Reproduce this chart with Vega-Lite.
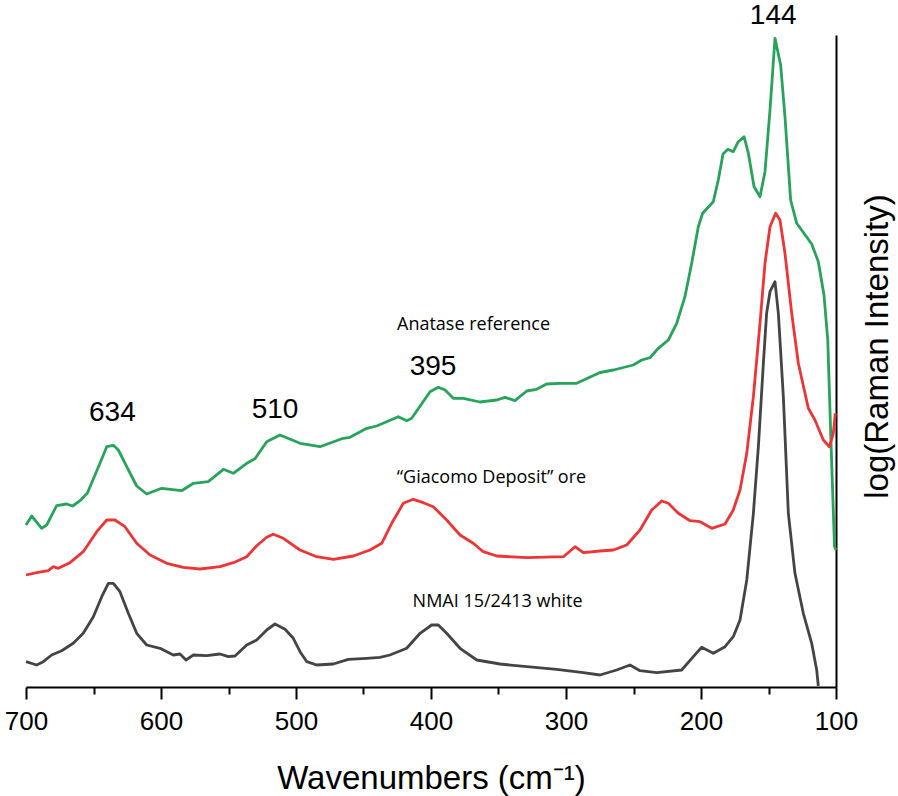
{
  "$schema": "https://vega.github.io/schema/vega-lite/v6.json",
  "width": 810,
  "height": 652,
  "autosize": {"type": "none"},
  "padding": {"left": 26, "top": 35, "right": 62, "bottom": 109},
  "background": "white",
  "config": {"view": {"stroke": null}},
  "datasets": {
    "spectra": [
      {"series": "Anatase reference", "wn": 700, "y": 162},
      {"series": "Anatase reference", "wn": 695.8, "y": 171},
      {"series": "Anatase reference", "wn": 688.4, "y": 158.7},
      {"series": "Anatase reference", "wn": 684.7, "y": 162},
      {"series": "Anatase reference", "wn": 677.3, "y": 181.3},
      {"series": "Anatase reference", "wn": 669.9, "y": 183},
      {"series": "Anatase reference", "wn": 665.4, "y": 181},
      {"series": "Anatase reference", "wn": 660, "y": 186.3},
      {"series": "Anatase reference", "wn": 654.6, "y": 193.7},
      {"series": "Anatase reference", "wn": 645.2, "y": 223.7},
      {"series": "Anatase reference", "wn": 640.2, "y": 240.3},
      {"series": "Anatase reference", "wn": 635.3, "y": 241.7},
      {"series": "Anatase reference", "wn": 631.6, "y": 237},
      {"series": "Anatase reference", "wn": 625.4, "y": 220.3},
      {"series": "Anatase reference", "wn": 618, "y": 201},
      {"series": "Anatase reference", "wn": 610.6, "y": 193},
      {"series": "Anatase reference", "wn": 599.5, "y": 198.7},
      {"series": "Anatase reference", "wn": 584.7, "y": 196.3},
      {"series": "Anatase reference", "wn": 576, "y": 203.7},
      {"series": "Anatase reference", "wn": 565, "y": 205.3},
      {"series": "Anatase reference", "wn": 553.8, "y": 217.7},
      {"series": "Anatase reference", "wn": 546.4, "y": 213.7},
      {"series": "Anatase reference", "wn": 536.5, "y": 223.7},
      {"series": "Anatase reference", "wn": 530.4, "y": 228.3},
      {"series": "Anatase reference", "wn": 521.7, "y": 245.3},
      {"series": "Anatase reference", "wn": 511.9, "y": 252},
      {"series": "Anatase reference", "wn": 497, "y": 243.7},
      {"series": "Anatase reference", "wn": 482.2, "y": 240.3},
      {"series": "Anatase reference", "wn": 465, "y": 248.7},
      {"series": "Anatase reference", "wn": 460, "y": 249.7},
      {"series": "Anatase reference", "wn": 447.6, "y": 258.7},
      {"series": "Anatase reference", "wn": 440.2, "y": 261},
      {"series": "Anatase reference", "wn": 424.2, "y": 270.3},
      {"series": "Anatase reference", "wn": 418, "y": 266.3},
      {"series": "Anatase reference", "wn": 414.3, "y": 268.7},
      {"series": "Anatase reference", "wn": 400.7, "y": 295.3},
      {"series": "Anatase reference", "wn": 394.6, "y": 299.7},
      {"series": "Anatase reference", "wn": 389.6, "y": 297},
      {"series": "Anatase reference", "wn": 383.5, "y": 288.7},
      {"series": "Anatase reference", "wn": 376, "y": 288.7},
      {"series": "Anatase reference", "wn": 363.7, "y": 285},
      {"series": "Anatase reference", "wn": 351.3, "y": 287},
      {"series": "Anatase reference", "wn": 345.2, "y": 289.7},
      {"series": "Anatase reference", "wn": 337.8, "y": 286.3},
      {"series": "Anatase reference", "wn": 329.1, "y": 296},
      {"series": "Anatase reference", "wn": 321.7, "y": 297.7},
      {"series": "Anatase reference", "wn": 314.3, "y": 303},
      {"series": "Anatase reference", "wn": 304.4, "y": 303.7},
      {"series": "Anatase reference", "wn": 292.1, "y": 303.7},
      {"series": "Anatase reference", "wn": 274.8, "y": 314.5},
      {"series": "Anatase reference", "wn": 264.9, "y": 317},
      {"series": "Anatase reference", "wn": 250.1, "y": 322},
      {"series": "Anatase reference", "wn": 243.9, "y": 327},
      {"series": "Anatase reference", "wn": 237.8, "y": 329.3},
      {"series": "Anatase reference", "wn": 231.6, "y": 338.7},
      {"series": "Anatase reference", "wn": 224.2, "y": 347},
      {"series": "Anatase reference", "wn": 218, "y": 363.7},
      {"series": "Anatase reference", "wn": 211.9, "y": 390.3},
      {"series": "Anatase reference", "wn": 206.9, "y": 423.7},
      {"series": "Anatase reference", "wn": 202, "y": 460.3},
      {"series": "Anatase reference", "wn": 198.8, "y": 473.7},
      {"series": "Anatase reference", "wn": 190.9, "y": 485.3},
      {"series": "Anatase reference", "wn": 187.2, "y": 507},
      {"series": "Anatase reference", "wn": 183.7, "y": 533},
      {"series": "Anatase reference", "wn": 180.1, "y": 537.7},
      {"series": "Anatase reference", "wn": 176.1, "y": 535.3},
      {"series": "Anatase reference", "wn": 172.4, "y": 545.3},
      {"series": "Anatase reference", "wn": 168.1, "y": 550.3},
      {"series": "Anatase reference", "wn": 164.9, "y": 533.7},
      {"series": "Anatase reference", "wn": 160.7, "y": 500.3},
      {"series": "Anatase reference", "wn": 156.3, "y": 490.3},
      {"series": "Anatase reference", "wn": 152.6, "y": 515.3},
      {"series": "Anatase reference", "wn": 148.9, "y": 577},
      {"series": "Anatase reference", "wn": 145.2, "y": 648.7},
      {"series": "Anatase reference", "wn": 141, "y": 622},
      {"series": "Anatase reference", "wn": 137.8, "y": 570.3},
      {"series": "Anatase reference", "wn": 133.6, "y": 487},
      {"series": "Anatase reference", "wn": 129.1, "y": 463.7},
      {"series": "Anatase reference", "wn": 118, "y": 443},
      {"series": "Anatase reference", "wn": 113.1, "y": 425.3},
      {"series": "Anatase reference", "wn": 108.9, "y": 392},
      {"series": "Anatase reference", "wn": 106.1, "y": 347},
      {"series": "Anatase reference", "wn": 103.6, "y": 240.3},
      {"series": "Anatase reference", "wn": 101.1, "y": 140.3},
      {"series": "Anatase reference", "wn": 100, "y": 137},
      {"series": "Giacomo", "wn": 700, "y": 112},
      {"series": "Giacomo", "wn": 692.1, "y": 114.3},
      {"series": "Giacomo", "wn": 683.5, "y": 116.3},
      {"series": "Giacomo", "wn": 679.8, "y": 120.3},
      {"series": "Giacomo", "wn": 676.1, "y": 118.7},
      {"series": "Giacomo", "wn": 667.4, "y": 124.3},
      {"series": "Giacomo", "wn": 657.6, "y": 135.3},
      {"series": "Giacomo", "wn": 647.6, "y": 155.3},
      {"series": "Giacomo", "wn": 640.2, "y": 167},
      {"series": "Giacomo", "wn": 634.1, "y": 167},
      {"series": "Giacomo", "wn": 626.7, "y": 160.3},
      {"series": "Giacomo", "wn": 618, "y": 143.7},
      {"series": "Giacomo", "wn": 608.1, "y": 132},
      {"series": "Giacomo", "wn": 595.8, "y": 123.7},
      {"series": "Giacomo", "wn": 583.5, "y": 119.7},
      {"series": "Giacomo", "wn": 571.1, "y": 118},
      {"series": "Giacomo", "wn": 556.3, "y": 120.3},
      {"series": "Giacomo", "wn": 546.4, "y": 124.3},
      {"series": "Giacomo", "wn": 536.5, "y": 130.3},
      {"series": "Giacomo", "wn": 529.1, "y": 141.3},
      {"series": "Giacomo", "wn": 521.7, "y": 149.7},
      {"series": "Giacomo", "wn": 516.8, "y": 152.7},
      {"series": "Giacomo", "wn": 509.4, "y": 148.7},
      {"series": "Giacomo", "wn": 497, "y": 137},
      {"series": "Giacomo", "wn": 484.7, "y": 130.3},
      {"series": "Giacomo", "wn": 472.3, "y": 127.7},
      {"series": "Giacomo", "wn": 457.5, "y": 131},
      {"series": "Giacomo", "wn": 445.2, "y": 137},
      {"series": "Giacomo", "wn": 436.5, "y": 143.7},
      {"series": "Giacomo", "wn": 429.1, "y": 163.7},
      {"series": "Giacomo", "wn": 420.5, "y": 183.7},
      {"series": "Giacomo", "wn": 413.1, "y": 187.7},
      {"series": "Giacomo", "wn": 405.7, "y": 184.3},
      {"series": "Giacomo", "wn": 398.3, "y": 180.3},
      {"series": "Giacomo", "wn": 388.4, "y": 167},
      {"series": "Giacomo", "wn": 378.5, "y": 152},
      {"series": "Giacomo", "wn": 368.7, "y": 143.7},
      {"series": "Giacomo", "wn": 361.3, "y": 135.3},
      {"series": "Giacomo", "wn": 351.3, "y": 131},
      {"series": "Giacomo", "wn": 329.1, "y": 129.3},
      {"series": "Giacomo", "wn": 301.9, "y": 130.3},
      {"series": "Giacomo", "wn": 293.3, "y": 140.3},
      {"series": "Giacomo", "wn": 287.2, "y": 134.3},
      {"series": "Giacomo", "wn": 274.8, "y": 136},
      {"series": "Giacomo", "wn": 264.9, "y": 137},
      {"series": "Giacomo", "wn": 255, "y": 142},
      {"series": "Giacomo", "wn": 245.2, "y": 157},
      {"series": "Giacomo", "wn": 236.5, "y": 177},
      {"series": "Giacomo", "wn": 229.1, "y": 186},
      {"series": "Giacomo", "wn": 224.2, "y": 183.7},
      {"series": "Giacomo", "wn": 216.8, "y": 173.7},
      {"series": "Giacomo", "wn": 208.1, "y": 166.3},
      {"series": "Giacomo", "wn": 200.7, "y": 165.3},
      {"series": "Giacomo", "wn": 192, "y": 158.7},
      {"series": "Giacomo", "wn": 182.2, "y": 163},
      {"series": "Giacomo", "wn": 176.1, "y": 177},
      {"series": "Giacomo", "wn": 171.1, "y": 197},
      {"series": "Giacomo", "wn": 166.1, "y": 233.7},
      {"series": "Giacomo", "wn": 161.2, "y": 290.3},
      {"series": "Giacomo", "wn": 156.3, "y": 363.7},
      {"series": "Giacomo", "wn": 152.6, "y": 423.7},
      {"series": "Giacomo", "wn": 148.9, "y": 460.3},
      {"series": "Giacomo", "wn": 144.7, "y": 473.7},
      {"series": "Giacomo", "wn": 141.5, "y": 467},
      {"series": "Giacomo", "wn": 137.8, "y": 433.7},
      {"series": "Giacomo", "wn": 132.8, "y": 373.7},
      {"series": "Giacomo", "wn": 127.9, "y": 323.7},
      {"series": "Giacomo", "wn": 120.5, "y": 278.7},
      {"series": "Giacomo", "wn": 115.6, "y": 267},
      {"series": "Giacomo", "wn": 109.4, "y": 247},
      {"series": "Giacomo", "wn": 104.9, "y": 240.3},
      {"series": "Giacomo", "wn": 102, "y": 253.7},
      {"series": "Giacomo", "wn": 100.5, "y": 273.7},
      {"series": "NMAI", "wn": 700, "y": 25.3},
      {"series": "NMAI", "wn": 692.1, "y": 22},
      {"series": "NMAI", "wn": 687.2, "y": 25.3},
      {"series": "NMAI", "wn": 681, "y": 32},
      {"series": "NMAI", "wn": 673.6, "y": 36.3},
      {"series": "NMAI", "wn": 665, "y": 43.7},
      {"series": "NMAI", "wn": 657.6, "y": 53.7},
      {"series": "NMAI", "wn": 650.1, "y": 70.3},
      {"series": "NMAI", "wn": 643.9, "y": 90.3},
      {"series": "NMAI", "wn": 639, "y": 103.7},
      {"series": "NMAI", "wn": 635.3, "y": 103.7},
      {"series": "NMAI", "wn": 630.4, "y": 95.3},
      {"series": "NMAI", "wn": 624.2, "y": 73.7},
      {"series": "NMAI", "wn": 618, "y": 53.7},
      {"series": "NMAI", "wn": 610.6, "y": 42},
      {"series": "NMAI", "wn": 600.7, "y": 38.7},
      {"series": "NMAI", "wn": 590.9, "y": 32},
      {"series": "NMAI", "wn": 585.9, "y": 33},
      {"series": "NMAI", "wn": 581.5, "y": 27},
      {"series": "NMAI", "wn": 576, "y": 32},
      {"series": "NMAI", "wn": 566.2, "y": 31.3},
      {"series": "NMAI", "wn": 556.3, "y": 33},
      {"series": "NMAI", "wn": 550.1, "y": 30.3},
      {"series": "NMAI", "wn": 545.2, "y": 31},
      {"series": "NMAI", "wn": 536.5, "y": 42},
      {"series": "NMAI", "wn": 529.1, "y": 47},
      {"series": "NMAI", "wn": 521.7, "y": 57},
      {"series": "NMAI", "wn": 515.6, "y": 63},
      {"series": "NMAI", "wn": 508.1, "y": 57.7},
      {"series": "NMAI", "wn": 502, "y": 48.7},
      {"series": "NMAI", "wn": 497, "y": 35.3},
      {"series": "NMAI", "wn": 492, "y": 25.3},
      {"series": "NMAI", "wn": 484.7, "y": 22},
      {"series": "NMAI", "wn": 472.3, "y": 23},
      {"series": "NMAI", "wn": 461.3, "y": 27.7},
      {"series": "NMAI", "wn": 447.6, "y": 28.7},
      {"series": "NMAI", "wn": 437.8, "y": 29.7},
      {"series": "NMAI", "wn": 430.4, "y": 32},
      {"series": "NMAI", "wn": 418, "y": 38.7},
      {"series": "NMAI", "wn": 408.1, "y": 53.7},
      {"series": "NMAI", "wn": 399.5, "y": 62},
      {"series": "NMAI", "wn": 394.6, "y": 62},
      {"series": "NMAI", "wn": 388.4, "y": 53.7},
      {"series": "NMAI", "wn": 378.5, "y": 38.7},
      {"series": "NMAI", "wn": 366.1, "y": 27},
      {"series": "NMAI", "wn": 348.9, "y": 23},
      {"series": "NMAI", "wn": 329.1, "y": 20.3},
      {"series": "NMAI", "wn": 306.9, "y": 17.7},
      {"series": "NMAI", "wn": 287.2, "y": 14.3},
      {"series": "NMAI", "wn": 274.8, "y": 12},
      {"series": "NMAI", "wn": 262.5, "y": 17},
      {"series": "NMAI", "wn": 252.6, "y": 22},
      {"series": "NMAI", "wn": 245.2, "y": 16.3},
      {"series": "NMAI", "wn": 232.8, "y": 14.3},
      {"series": "NMAI", "wn": 214.3, "y": 17},
      {"series": "NMAI", "wn": 205.7, "y": 30.3},
      {"series": "NMAI", "wn": 199.5, "y": 39.7},
      {"series": "NMAI", "wn": 190.9, "y": 33.7},
      {"series": "NMAI", "wn": 182.2, "y": 40.3},
      {"series": "NMAI", "wn": 176.1, "y": 50.3},
      {"series": "NMAI", "wn": 171.1, "y": 67},
      {"series": "NMAI", "wn": 166.1, "y": 107},
      {"series": "NMAI", "wn": 161.2, "y": 173.7},
      {"series": "NMAI", "wn": 157.5, "y": 240.3},
      {"series": "NMAI", "wn": 153.8, "y": 323.7},
      {"series": "NMAI", "wn": 151.4, "y": 373.7},
      {"series": "NMAI", "wn": 148.9, "y": 395.3},
      {"series": "NMAI", "wn": 145.2, "y": 405.3},
      {"series": "NMAI", "wn": 142.7, "y": 373.7},
      {"series": "NMAI", "wn": 139, "y": 290.3},
      {"series": "NMAI", "wn": 135.3, "y": 173.7},
      {"series": "NMAI", "wn": 130.4, "y": 113.7},
      {"series": "NMAI", "wn": 124.2, "y": 73.7},
      {"series": "NMAI", "wn": 118, "y": 43.7},
      {"series": "NMAI", "wn": 114.3, "y": 17},
      {"series": "NMAI", "wn": 113.1, "y": 1}
    ],
    "peaks": [
      {"label": "144", "wn": 146.5, "y": 671},
      {"label": "634", "wn": 636, "y": 274},
      {"label": "510", "wn": 515.5, "y": 277},
      {"label": "395", "wn": 398.5, "y": 320.5}
    ],
    "names": [
      {"label": "Anatase reference", "wn": 368.5, "y": 362},
      {"label": "“Giacomo Deposit” ore", "wn": 355.2, "y": 208.7},
      {"label": "NMAI 15/2413 white", "wn": 350.7, "y": 85.3}
    ]
  },
  "layer": [
    {
      "data": {"name": "spectra"},
      "mark": {"type": "line", "strokeWidth": 2.8, "strokeJoin": "round", "clip": false},
      "encoding": {
        "x": {
          "field": "wn",
          "type": "quantitative",
          "scale": {"domain": [100, 700], "reverse": true, "nice": false, "zero": false},
          "axis": {
            "orient": "bottom",
            "values": [100, 150, 200, 250, 300, 350, 400, 450, 500, 550, 600, 650, 700],
            "labelExpr": "datum.value % 100 === 0 ? datum.label : ''",
            "tickSize": {"condition": {"test": "datum.value % 100 !== 0", "value": 7}, "value": 12},
            "tickWidth": 2,
            "tickColor": "black",
            "domainColor": "black",
            "domainWidth": 2,
            "grid": false,
            "labelFont": "Liberation Sans",
            "labelFontSize": 26,
            "labelColor": "black",
            "labelPadding": 9,
            "labelFlush": false,
            "labelOverlap": false,
            "title": "Wavenumbers (cm⁻¹)",
            "titleFont": "Liberation Sans",
            "titleFontSize": 33,
            "titleFontWeight": "normal",
            "titleColor": "black",
            "titleBaseline": "alphabetic",
            "titleY": 101
          }
        },
        "y": {
          "field": "y",
          "type": "quantitative",
          "scale": {"domain": [0, 652], "nice": false, "zero": false},
          "axis": {
            "orient": "right",
            "ticks": false,
            "labels": false,
            "grid": false,
            "domainColor": "black",
            "domainWidth": 2,
            "title": "log(Raman Intensity)",
            "titleFont": "Liberation Sans",
            "titleFontSize": 33,
            "titleFontWeight": "normal",
            "titleColor": "black",
            "titleAngle": 270,
            "titleAlign": "center",
            "titleBaseline": "middle",
            "titleX": 41,
            "titleY": 311
          }
        },
        "color": {
          "field": "series",
          "type": "nominal",
          "scale": {"domain": ["Anatase reference", "Giacomo", "NMAI"], "range": ["#27a35a", "#ee3535", "#444444"]},
          "legend": null
        }
      }
    },
    {
      "data": {"name": "peaks"},
      "mark": {"type": "text", "font": "Liberation Sans", "fontSize": 28, "color": "black", "align": "center", "baseline": "middle"},
      "encoding": {
        "x": {"field": "wn", "type": "quantitative"},
        "y": {"field": "y", "type": "quantitative"},
        "text": {"field": "label"}
      }
    },
    {
      "data": {"name": "names"},
      "mark": {"type": "text", "font": "Open Sans", "fontSize": 18, "color": "black", "align": "center", "baseline": "middle"},
      "encoding": {
        "x": {"field": "wn", "type": "quantitative"},
        "y": {"field": "y", "type": "quantitative"},
        "text": {"field": "label"}
      }
    }
  ]
}
